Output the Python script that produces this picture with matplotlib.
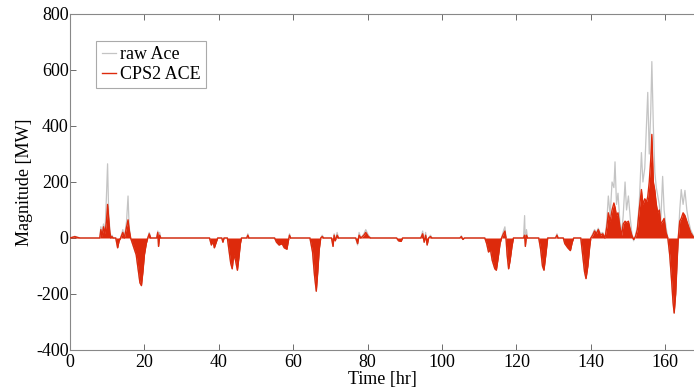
import matplotlib
matplotlib.use("Agg")
import matplotlib.pyplot as plt

# ---- data ----
time_hr = [0.0, 1.3, 2.0, 2.7, 8.0, 8.3, 8.6, 9.0, 9.4, 9.8, 10.1, 10.4, 10.7, 11.0, 11.3, 11.6,
           12.3, 12.8, 13.2, 13.6, 14.2, 14.6, 15.2, 15.6, 15.9, 16.3, 16.8, 17.3, 17.8, 18.3,
           18.8, 19.2, 19.6, 20.0, 20.5, 20.9, 21.3, 21.7, 23.3, 23.6, 23.8, 24.1, 24.4,
           37.5, 38.0, 38.4, 38.8, 39.3, 39.7, 40.8, 41.1, 41.4, 42.3, 42.7, 43.2, 43.6, 44.0,
           44.5, 45.0, 45.4, 45.8, 46.1, 47.5, 47.8, 48.1,
           55.0, 55.5, 56.2, 57.0, 57.6, 58.3, 58.7, 59.0, 59.3,
           64.5, 65.2, 65.7, 66.2, 66.6, 67.0, 67.4, 67.8, 68.2,
           70.3, 70.7, 71.0, 71.3, 71.8, 72.2,
           76.8, 77.3, 77.7, 78.2, 79.0, 79.5, 80.2, 80.8,
           87.8, 88.3, 89.0, 89.4,
           94.3, 94.8, 95.2, 95.6, 96.0, 96.4, 96.9, 97.3,
           104.8, 105.2, 105.6, 106.0,
           111.5, 112.0, 112.5, 113.0, 113.5, 114.2, 114.6, 115.1, 115.6, 116.0, 116.5, 116.9,
           117.2, 117.5, 117.9, 118.3, 118.8, 119.2,
           121.9, 122.2, 122.4, 122.7, 123.0,
           126.0, 126.5, 127.0, 127.4, 127.9, 128.4,
           130.5, 130.9, 131.2,
           132.6, 133.0, 133.8, 134.5, 135.0, 135.4,
           137.3, 137.8, 138.3, 138.7, 139.2, 139.7, 140.0, 140.5, 141.0, 141.5, 142.0, 142.6,
           143.2, 143.8, 144.3, 144.7, 145.2, 145.7, 146.2, 146.5, 146.9, 147.3, 147.8, 148.3,
           148.7, 149.2, 149.6, 150.1, 150.6, 151.0, 151.5, 152.0, 152.5, 153.0, 153.6, 154.0,
           154.5, 155.0, 155.3, 155.7, 156.1, 156.4, 156.8, 157.2, 157.6, 158.0, 158.4, 158.8,
           159.3, 159.7, 160.2, 160.7, 161.2, 161.7, 162.1, 162.4, 162.8, 163.2, 163.5, 163.9,
           164.3, 164.8, 165.3, 165.8, 166.3, 166.8, 167.5, 168.0]

raw_ace = [0, 6, 3, 0, 0, 40, 10, 50, 20, 150, 265, 90, 30, 0, 10, 0,
           0, -35, -10, 0, 30, 0, 60, 150, 40, 0, -20, -40, -60, -110,
           -160, -170, -120, -60, -20, 0, 20, 0, 0, 25, -30, 20, 0,
           0, -25, -10, -35, -15, 0, 0, -15, 0, 0, -40, -90, -110, -60,
           -80, -115, -70, -20, 0, 0, 15, 0,
           0, -15, -25, -20, -35, -40, -10, 15, 0,
           0, -50, -130, -190, -120, -40, 0, 10, 0,
           0, -30, 15, -10, 20, 0,
           0, -25, 20, 0, 15, 30, 10, 0,
           0, -10, -12, 0,
           0, 25, -15, 20, -25, 0, 10, 0,
           0, 8, -5, 0,
           0, -20, -50, -40, -80, -110, -115, -70, -20, 0, 25, 40,
           0, -60, -110, -80, -30, 0,
           0, 80, -30, 30, 0,
           0, -40, -100, -115, -60, 0,
           0, 15, 0,
           0, -20, -35, -45, -15, 0,
           0, -60, -120, -145, -100, -30, 0, 15, 30, 20, 35, 15,
           20, 0, 60, 150, 80, 200, 180, 272, 120, 160, 60, 20,
           80, 200, 100, 150, 70, 20, -10, 10, 40, 120, 305, 200,
           250, 420, 520, 300, 450, 630, 400, 235, 180, 150, 120, 60,
           220, 100, 40, 0, -60, -150, -230, -268, -200, -80, 0, 100,
           173, 120, 170, 100, 60, 30, 10, 0]

cps2_ace = [0, 5, 2, 0, 0, 30, 5, 40, 15, 60, 120, 70, 20, 0, 5, 0,
            0, -35, -10, 0, 20, 0, 40, 65, 30, 0, -20, -40, -60, -110,
            -160, -170, -120, -60, -20, 0, 15, 0, 0, 20, -30, 10, 0,
            0, -25, -10, -35, -15, 0, 0, -15, 0, 0, -40, -90, -110, -60,
            -80, -115, -70, -20, 0, 0, 10, 0,
            0, -15, -25, -20, -35, -40, -10, 10, 0,
            0, -50, -130, -190, -120, -40, 0, 5, 0,
            0, -30, 10, -10, 10, 0,
            0, -20, 10, 0, 10, 20, 5, 0,
            0, -10, -12, 0,
            0, 15, -15, 10, -25, 0, 5, 0,
            0, 5, -5, 0,
            0, -20, -50, -40, -80, -110, -115, -70, -20, 0, 15, 25,
            0, -60, -110, -80, -30, 0,
            0, 10, -30, 10, 0,
            0, -40, -100, -115, -60, 0,
            0, 10, 0,
            0, -20, -35, -45, -15, 0,
            0, -60, -120, -145, -100, -30, 0, 10, 25, 15, 30, 10,
            15, 0, 40, 90, 60, 100, 125, 110, 80, 90, 40, 10,
            50, 60, 55, 60, 30, 10, -5, 5, 30, 100, 173, 120,
            140, 130, 148, 200, 280, 370, 200, 170, 120, 90, 100, 50,
            60, 70, 20, 0, -60, -150, -230, -268, -200, -80, 0, 60,
            70, 90, 80, 60, 40, 20, 5, 0]

series_labels = ["raw Ace", "CPS2 ACE"]
x_ticks = [0, 20, 40, 60, 80, 100, 120, 140, 160]
y_ticks = [-400, -200, 0, 200, 400, 600, 800]

# ---- style ----
plt.rcParams['font.family'] = ['Liberation Serif', 'DejaVu Serif']
plt.rcParams['font.size'] = 13
plt.rcParams['axes.unicode_minus'] = False

fig = plt.figure(figsize=(6.94, 3.91), dpi=100)
ax = fig.add_axes([70/694, 41/391, 625/694, 336/391])

raw_color = '#c4c4c4'
red_color = '#dd2a0c'

ax.plot(time_hr, raw_ace, color=raw_color, lw=0.9, label=series_labels[0], zorder=2)
ax.fill_between(time_hr, cps2_ace, 0, color=red_color, lw=0, zorder=3)
ax.plot(time_hr, cps2_ace, color=red_color, lw=1.0, label=series_labels[1], zorder=4)

ax.set_xlim(0, 168)
ax.set_ylim(-400, 800)
ax.set_xticks(x_ticks)
ax.set_yticks(y_ticks)
ax.tick_params(direction='in', top=True, right=False, length=4, width=0.6,
               color='#555555', labelsize=13)
ax.tick_params(axis='y', pad=1)
ax.tick_params(axis='x', pad=3)
for s in ax.spines.values():
    s.set_color('#888888')
    s.set_linewidth(0.8)
ax.spines['right'].set_visible(False)

ax.set_xlabel('Time [hr]', labelpad=0)
ax.set_ylabel('Magnitude [MW]', labelpad=2)

leg = ax.legend(loc='upper left', bbox_to_anchor=(0.042, 0.92), borderaxespad=0,
                handlelength=0.8, handletextpad=0.2, fancybox=False, framealpha=1,
                edgecolor='#aaaaaa', borderpad=0.3, labelspacing=0.15, fontsize=13)
leg.get_frame().set_linewidth(0.8)

fig.savefig('out.png', dpi=100)
